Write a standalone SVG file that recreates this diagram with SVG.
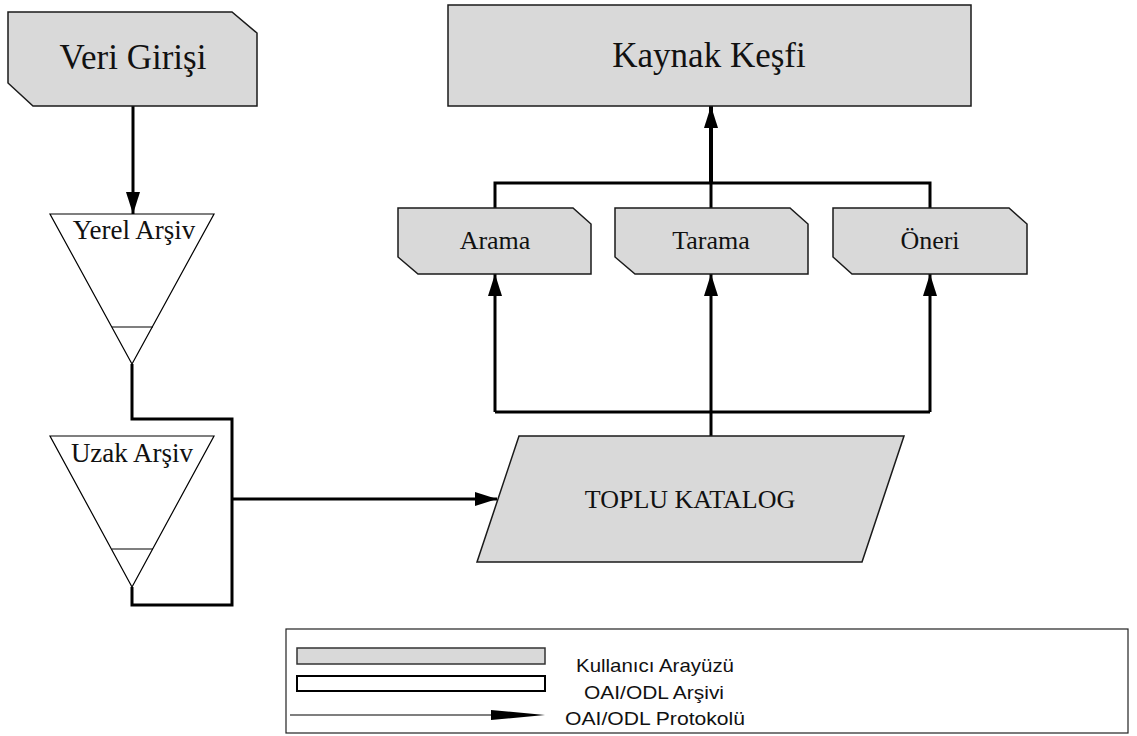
<svg xmlns="http://www.w3.org/2000/svg" width="1137" height="736" viewBox="0 0 1137 736">
<defs>
<style>
.ui{fill:#d9d9d9;stroke:#1a1a1a;stroke-width:1.5}
.arc{fill:#ffffff;stroke:#000;stroke-width:1.2}
.c{fill:none;stroke:#000;stroke-width:3}
.t{font-family:"Liberation Serif","Times New Roman",serif;fill:#111;text-anchor:middle}
.s{font-family:"Liberation Sans",Arial,sans-serif;fill:#111;text-anchor:middle;font-size:19px}
</style>
<marker id="ah" viewBox="0 0 22 14" refX="22" refY="7" markerWidth="22" markerHeight="14" markerUnits="userSpaceOnUse" orient="auto">
<path d="M0,0 L22,7 L0,14 z" fill="#000"/>
</marker>
</defs>
<rect width="1137" height="736" fill="#fff"/>
<g id="connectors">
<path class="c" d="M133,106 V214" marker-end="url(#ah)"/>
<path class="c" d="M132,364 V419 H232 V605 H132 V587"/>
<path class="c" d="M232,499 H497" marker-end="url(#ah)"/>
<path class="c" d="M711,436 V412"/>
<path class="c" d="M495,412 H930"/>
<path class="c" d="M495,412 V274" marker-end="url(#ah)"/>
<path class="c" d="M711,412 V274" marker-end="url(#ah)"/>
<path class="c" d="M930,412 V274" marker-end="url(#ah)"/>
<path class="c" d="M495,208 V183 H930 V208"/>
<path class="c" d="M711,208 V183"/>
<path class="c" style="stroke-width:4" d="M711,183 V106" marker-end="url(#ah)"/>
</g>
<g id="veri-girisi">
<polygon class="ui" points="8,12 232,12 257,33 257,106 33,106 8,83"/>
<text class="t" x="133" y="69" font-size="35">Veri Girişi</text>
</g>
<g id="kaynak-kesfi">
<rect class="ui" x="448" y="5" width="523" height="101"/>
<text class="t" x="709" y="67" font-size="35">Kaynak Keşfi</text>
</g>
<g id="arama">
<polygon class="ui" points="398,208 573,208 591,224 591,274 418,274 398,257"/>
<text class="t" x="495" y="249" font-size="26">Arama</text>
</g>
<g id="tarama">
<polygon class="ui" points="615,208 790,208 808,224 808,274 635,274 615,257"/>
<text class="t" x="711" y="249" font-size="26">Tarama</text>
</g>
<g id="oneri">
<polygon class="ui" points="833,208 1009,208 1027,224 1027,274 852,274 833,257"/>
<text class="t" x="930" y="249" font-size="26">Öneri</text>
</g>
<g id="yerel-arsiv">
<polygon class="arc" points="50,214 214,214 132,364"/>
<line class="arc" x1="112" y1="327" x2="153" y2="327"/>
<text class="t" x="134" y="239" font-size="27">Yerel Arşiv</text>
</g>
<g id="uzak-arsiv">
<polygon class="arc" points="50,436 214,436 132,587"/>
<line class="arc" x1="112" y1="549" x2="153" y2="549"/>
<text class="t" x="132" y="462" font-size="27">Uzak Arşiv</text>
</g>
<g id="toplu-katalog">
<polygon class="ui" points="519,436 904,436 862,562 477,562"/>
<text class="t" x="690" y="508" font-size="26">TOPLU KATALOG</text>
</g>
<g id="legend">
<rect x="286" y="629" width="842" height="104" fill="#fff" stroke="#222" stroke-width="1.2"/>
<rect x="297" y="648" width="248" height="16" fill="#d9d9d9" stroke="#333" stroke-width="1.5"/>
<rect x="297" y="676" width="248" height="15" fill="#fff" stroke="#000" stroke-width="2"/>
<line x1="290" y1="715" x2="495" y2="715" stroke="#000" stroke-width="1.2"/>
<polygon points="491,710 545,715 491,720" fill="#000"/>
<text class="s" x="655" y="672" textLength="158" lengthAdjust="spacingAndGlyphs">Kullanıcı Arayüzü</text>
<text class="s" x="654" y="699" textLength="140" lengthAdjust="spacingAndGlyphs">OAI/ODL Arşivi</text>
<text class="s" x="655" y="725" textLength="180" lengthAdjust="spacingAndGlyphs">OAI/ODL Protokolü</text>
</g>
</svg>
